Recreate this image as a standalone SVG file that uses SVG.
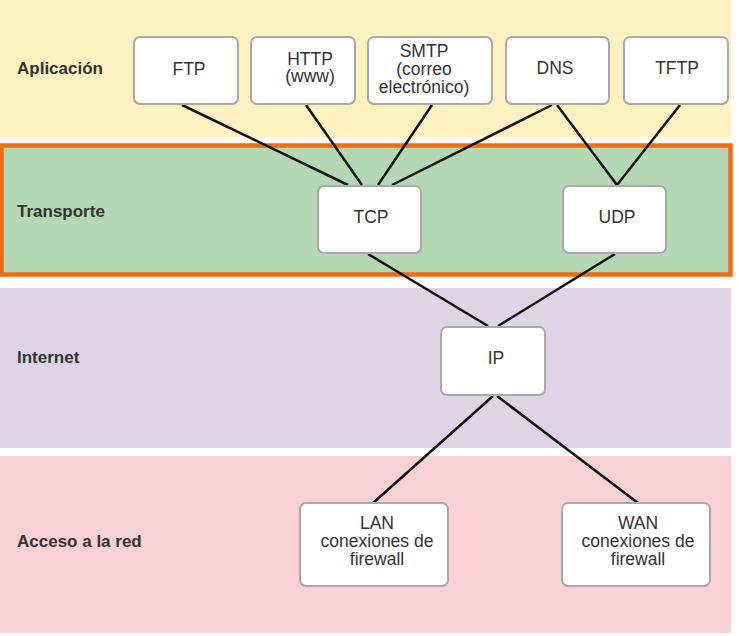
<svg xmlns="http://www.w3.org/2000/svg" width="739" height="636" viewBox="0 0 739 636">
<style>
.lbl{font-family:"Liberation Sans",Arial,sans-serif;font-size:17px;font-weight:bold;fill:#333}
.box{fill:#fff;stroke:#a9a9a9;stroke-width:2}
.t{font-family:"Liberation Sans",Arial,sans-serif;font-size:17.5px;fill:#333;text-anchor:middle}
.c{stroke:#111;stroke-width:2.5;fill:none}
</style>
<rect width="739" height="636" fill="#fff"/>
<g id="layers">
<rect x="0" y="0" width="731" height="137" fill="#fdf1bf"/>
<rect x="1.5" y="145.5" width="729" height="129" fill="#b4d8b4" stroke="#f26a12" stroke-width="4.5"/>
<rect x="0" y="288" width="731" height="160" fill="#dfd4e5"/>
<rect x="0" y="456" width="731" height="177" fill="#f7d1d4"/>
<text class="lbl" x="17" y="74">Aplicación</text>
<text class="lbl" x="17" y="217">Transporte</text>
<text class="lbl" x="17" y="363">Internet</text>
<text class="lbl" x="17" y="547">Acceso a la red</text>
</g>
<g id="connectors">
<line class="c" x1="182" y1="105" x2="348" y2="185"/>
<line class="c" x1="306" y1="105" x2="362" y2="185"/>
<line class="c" x1="432" y1="105" x2="378" y2="185"/>
<line class="c" x1="552" y1="105" x2="392" y2="185"/>
<line class="c" x1="557" y1="105" x2="617" y2="185"/>
<line class="c" x1="680" y1="105" x2="617" y2="185"/>
<line class="c" x1="368" y1="254" x2="488" y2="326"/>
<line class="c" x1="615" y1="254" x2="498" y2="326"/>
<line class="c" x1="493" y1="396" x2="373" y2="503"/>
<line class="c" x1="497" y1="396" x2="638" y2="503"/>
</g>
<g id="ftp"><rect class="box" x="134" y="37" width="104" height="67" rx="6"/><text class="t" x="189" y="75">FTP</text></g>
<g id="http"><rect class="box" x="251" y="37" width="104" height="67" rx="6"/><text class="t" x="310" y="65">HTTP</text><text class="t" x="310" y="82">(www)</text></g>
<g id="smtp"><rect class="box" x="368" y="37" width="124" height="67" rx="6"/><text class="t" x="424" y="57">SMTP</text><text class="t" x="424" y="75">(correo</text><text class="t" x="424" y="93">electrónico)</text></g>
<g id="dns"><rect class="box" x="506" y="37" width="103" height="67" rx="6"/><text class="t" x="555" y="74">DNS</text></g>
<g id="tftp"><rect class="box" x="624" y="37" width="104" height="67" rx="6"/><text class="t" x="677" y="74">TFTP</text></g>
<g id="tcp"><rect class="box" x="318" y="186" width="103" height="67" rx="6"/><text class="t" x="371" y="223">TCP</text></g>
<g id="udp"><rect class="box" x="563" y="186" width="103" height="67" rx="6"/><text class="t" x="617" y="223">UDP</text></g>
<g id="ip"><rect class="box" x="441" y="327" width="104" height="68" rx="6"/><text class="t" x="496" y="364">IP</text></g>
<g id="lan"><rect class="box" x="300" y="503" width="148" height="83" rx="6"/><text class="t" x="377" y="529">LAN</text><text class="t" x="377" y="547">conexiones de</text><text class="t" x="377" y="565">firewall</text></g>
<g id="wan"><rect class="box" x="562" y="503" width="148" height="83" rx="6"/><text class="t" x="638" y="529">WAN</text><text class="t" x="638" y="547">conexiones de</text><text class="t" x="638" y="565">firewall</text></g>
</svg>
